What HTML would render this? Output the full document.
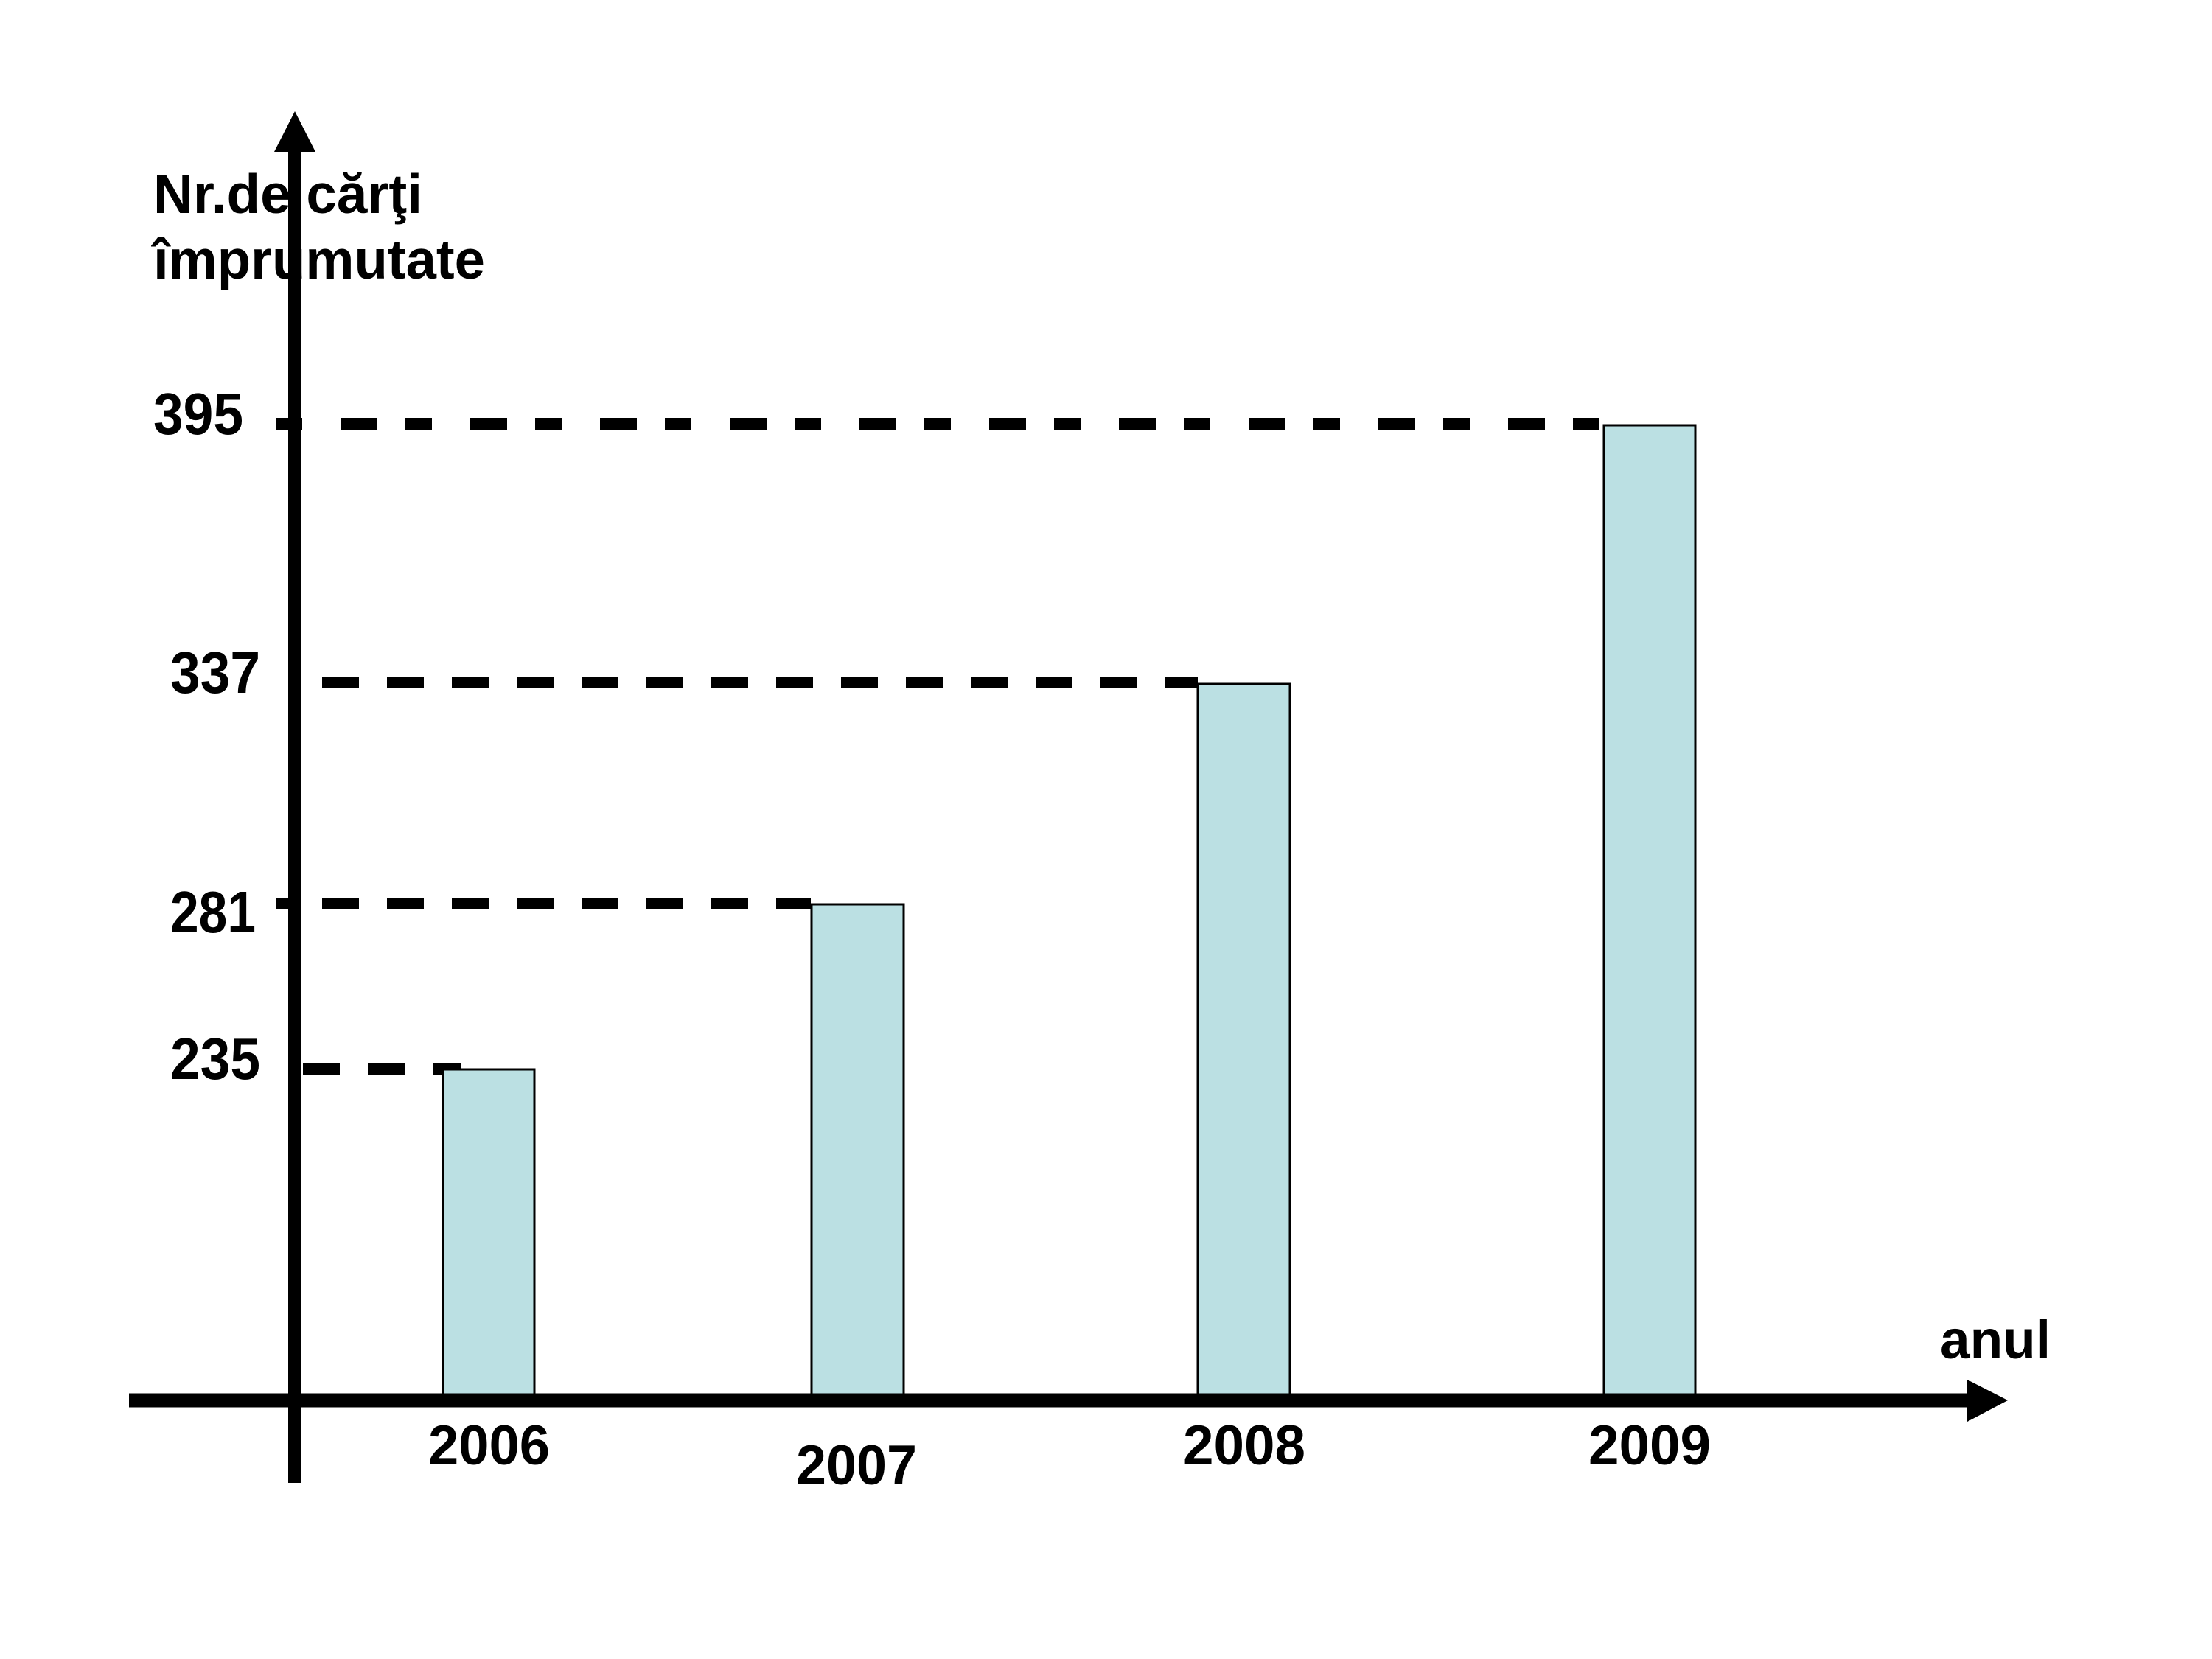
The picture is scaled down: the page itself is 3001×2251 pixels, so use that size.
<!DOCTYPE html>
<html><head><meta charset="utf-8"><style>
html,body{margin:0;padding:0;background:#fff;}
svg{display:block;}
text{font-family:"Liberation Sans",Arial,sans-serif;font-weight:bold;fill:#000;}
</style></head><body>
<svg width="3001" height="2251" viewBox="0 0 3001 2251" xmlns="http://www.w3.org/2000/svg">
<rect width="3001" height="2251" fill="#fff"/>
<g stroke="#000" stroke-width="16" stroke-dasharray="50 38">
<line x1="374" y1="575" x2="2176" y2="575" stroke-dasharray="36 52 50 38"/>
<line x1="437" y1="926" x2="1625" y2="926"/>
<line x1="437" y1="1226" x2="1100" y2="1226"/>
<line x1="411" y1="1450" x2="625" y2="1450"/>
</g>
<line x1="375" y1="1226" x2="392" y2="1226" stroke="#000" stroke-width="16"/>
<g fill="#bbe0e3" stroke="#000" stroke-width="3">
<rect x="601" y="1451" width="124" height="449"/>
<rect x="1101" y="1227" width="125" height="673"/>
<rect x="1625" y="928" width="125" height="972"/>
<rect x="2176" y="577" width="124" height="1323"/>
</g>
<line x1="400" y1="200" x2="400" y2="2012" stroke="#000" stroke-width="18"/>
<polygon points="400,151 372,206 428,206" fill="#000"/>
<line x1="175" y1="1900" x2="2680" y2="1900" stroke="#000" stroke-width="19"/>
<polygon points="2724,1900 2669,1872 2669,1929" fill="#000"/>
<text x="208" y="289" font-size="75" textLength="365" lengthAdjust="spacingAndGlyphs">Nr.de cărţi</text>
<text x="208" y="378" font-size="75" textLength="450" lengthAdjust="spacingAndGlyphs">împrumutate</text>
<text x="208" y="589" font-size="80" textLength="122" lengthAdjust="spacingAndGlyphs">395</text>
<text x="231" y="940" font-size="80" textLength="122" lengthAdjust="spacingAndGlyphs">337</text>
<text x="231" y="1265" font-size="80" textLength="116" lengthAdjust="spacingAndGlyphs">281</text>
<text x="231" y="1464" font-size="80" textLength="122" lengthAdjust="spacingAndGlyphs">235</text>
<text x="581" y="1987" font-size="76" textLength="165" lengthAdjust="spacingAndGlyphs">2006</text>
<text x="1080" y="2014" font-size="76" textLength="164" lengthAdjust="spacingAndGlyphs">2007</text>
<text x="1605" y="1987" font-size="76" textLength="166" lengthAdjust="spacingAndGlyphs">2008</text>
<text x="2155" y="1987" font-size="76" textLength="166" lengthAdjust="spacingAndGlyphs">2009</text>
<text x="2632" y="1843" font-size="74" textLength="150" lengthAdjust="spacingAndGlyphs">anul</text>
</svg>
</body></html>
